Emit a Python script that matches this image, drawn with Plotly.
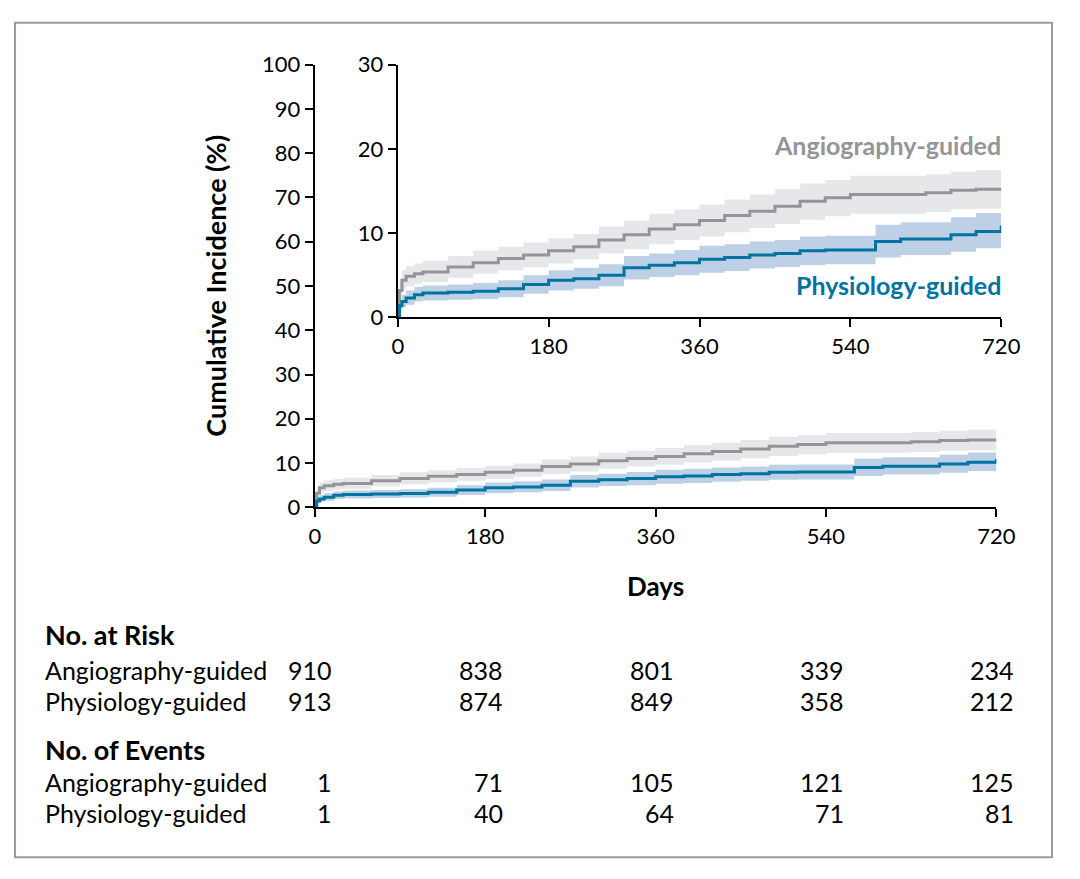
import plotly.graph_objects as go

days = [0, 2, 5, 10, 20, 30, 60, 90, 120, 150, 180, 210, 240, 270, 300, 330, 360, 390, 420, 450, 480, 510, 540, 570, 600, 630, 660, 690, 720]
angio = [0, 3.2, 4.4, 4.9, 5.2, 5.4, 6.0, 6.5, 7.0, 7.4, 7.9, 8.4, 9.2, 9.8, 10.5, 11.0, 11.5, 12.1, 12.6, 13.2, 13.8, 14.2, 14.6, 14.6, 14.6, 14.8, 15.1, 15.2, 15.3]
angio_lo = [0, 2.2, 3.2, 3.7, 4.0, 4.2, 4.7, 5.2, 5.6, 6.0, 6.4, 6.9, 7.6, 8.1, 8.7, 9.2, 9.6, 10.1, 10.6, 11.1, 11.6, 12.0, 12.3, 12.3, 12.3, 12.5, 12.8, 12.9, 13.0]
angio_hi = [0, 4.2, 5.6, 6.1, 6.4, 6.7, 7.3, 7.9, 8.4, 8.9, 9.4, 9.9, 10.8, 11.5, 12.3, 12.8, 13.4, 14.0, 14.6, 15.2, 15.9, 16.3, 16.8, 16.8, 16.8, 17.0, 17.3, 17.5, 17.6]
physio = [0, 1.4, 1.9, 2.3, 2.7, 2.9, 3.0, 3.1, 3.4, 3.9, 4.4, 4.6, 5.0, 5.9, 6.2, 6.5, 6.9, 7.1, 7.4, 7.6, 7.9, 8.0, 8.0, 9.0, 9.3, 9.3, 9.8, 10.2, 10.9]
physio_lo = [0, 0.8, 1.2, 1.5, 1.9, 2.0, 2.1, 2.2, 2.4, 2.8, 3.2, 3.4, 3.7, 4.5, 4.8, 5.0, 5.3, 5.5, 5.8, 6.0, 6.2, 6.3, 6.3, 7.1, 7.4, 7.4, 7.8, 8.2, 8.5]
physio_hi = [0, 2.0, 2.7, 3.2, 3.6, 3.8, 3.9, 4.1, 4.4, 5.0, 5.6, 5.9, 6.3, 7.3, 7.6, 8.0, 8.5, 8.7, 9.0, 9.2, 9.6, 9.7, 9.7, 11.0, 11.3, 11.3, 11.9, 12.4, 13.3]

main_yticks = [0, 10, 20, 30, 40, 50, 60, 70, 80, 90, 100]
inset_yticks = [0, 10, 20, 30]
xticks = [0, 180, 360, 540, 720]

risk_labels = ["Angiography-guided", "Physiology-guided"]
risk_angio = [910, 838, 801, 339, 234]
risk_physio = [913, 874, 849, 358, 212]
events_angio = [1, 71, 105, 121, 125]
events_physio = [1, 40, 64, 71, 81]

GRAY = "#939598"
BLUE = "#0073a0"
GRAY_BAND = "rgba(200,202,205,0.45)"
BLUE_BAND = "rgba(110,150,200,0.45)"
FONT = "Lato"
W, H, OFF = 1064, 863, 8

def px(v):
    return (v - OFF) / W

def py(v):
    return 1 - (v - OFF) / H

fig = go.Figure()
for xa, ya in [("x", "y"), ("x2", "y2")]:
    for lo, hi, band in [(angio_lo, angio_hi, GRAY_BAND), (physio_lo, physio_hi, BLUE_BAND)]:
        fig.add_trace(go.Scatter(x=days, y=lo, mode="lines", line=dict(width=0, shape="hv"),
                                 xaxis=xa, yaxis=ya, showlegend=False, hoverinfo="skip"))
        fig.add_trace(go.Scatter(x=days, y=hi, mode="lines", line=dict(width=0, shape="hv"),
                                 fill="tonexty", fillcolor=band, xaxis=xa, yaxis=ya,
                                 showlegend=False, hoverinfo="skip"))
    fig.add_trace(go.Scatter(x=days, y=angio, mode="lines", line=dict(color=GRAY, width=3, shape="hv"),
                             xaxis=xa, yaxis=ya, showlegend=False))
    fig.add_trace(go.Scatter(x=days, y=physio, mode="lines", line=dict(color=BLUE, width=3, shape="hv"),
                             xaxis=xa, yaxis=ya, showlegend=False))

axcommon = dict(showgrid=False, zeroline=False, showline=True, linecolor="black", linewidth=2,
                ticks="outside", ticklen=8, tickwidth=2, tickcolor="black",
                tickfont=dict(family=FONT, size=22, color="black"))
fig.update_layout(
    width=W, height=H, margin=dict(l=0, r=0, t=0, b=0),
    paper_bgcolor="white", plot_bgcolor="rgba(0,0,0,0)",
    xaxis=dict(domain=[px(316), px(1014)], range=[0, 720], tickvals=xticks, anchor="y", **axcommon),
    yaxis=dict(domain=[py(509), py(52)], range=[0, 100], tickvals=main_yticks, anchor="x", **axcommon),
    xaxis2=dict(domain=[px(401), px(1019)], range=[0, 720], tickvals=xticks, anchor="y2", **axcommon),
    yaxis2=dict(domain=[py(313), py(52)], range=[0, 30], tickvals=inset_yticks, anchor="x2", **axcommon),
)

fig.add_shape(type="rect", xref="paper", yref="paper", x0=0.001, x1=0.999, y0=0.001, y1=0.999,
              line=dict(color="#9a9a9a", width=2))

def ann(text, x, y, size=22, bold=False, color="black", xanchor="left", angle=0):
    fig.add_annotation(text=f"<b>{text}</b>" if bold else text, xref="paper", yref="paper",
                       x=px(x), y=py(y), showarrow=False, xanchor=xanchor, yanchor="middle",
                       textangle=angle, font=dict(family=FONT, size=size, color=color))

ann("Cumulative Incidence (%)", 214, 280, size=27, bold=True, xanchor="center", angle=-90)
ann("Days", 665, 590, size=26, bold=True, xanchor="center")
ann("Angiography-guided", 1021, 135, size=25, bold=True, color=GRAY, xanchor="right")
ann("Physiology-guided", 1021, 279, size=25, bold=True, color=BLUE, xanchor="right")

ann("No. at Risk", 38, 640, size=27, bold=True)
ann("No. of Events", 38, 759, size=27, bold=True)
colx = [336, 511, 686, 860, 1034]
for rowy, vals, lab in [(677, risk_angio, risk_labels[0]), (709, risk_physio, risk_labels[1]),
                        (793, events_angio, risk_labels[0]), (825, events_physio, risk_labels[1])]:
    ann(lab, 38, rowy, size=25)
    for cx, v in zip(colx, vals):
        ann(str(v), cx, rowy, size=25, xanchor="right")

fig.write_html("out.html")
